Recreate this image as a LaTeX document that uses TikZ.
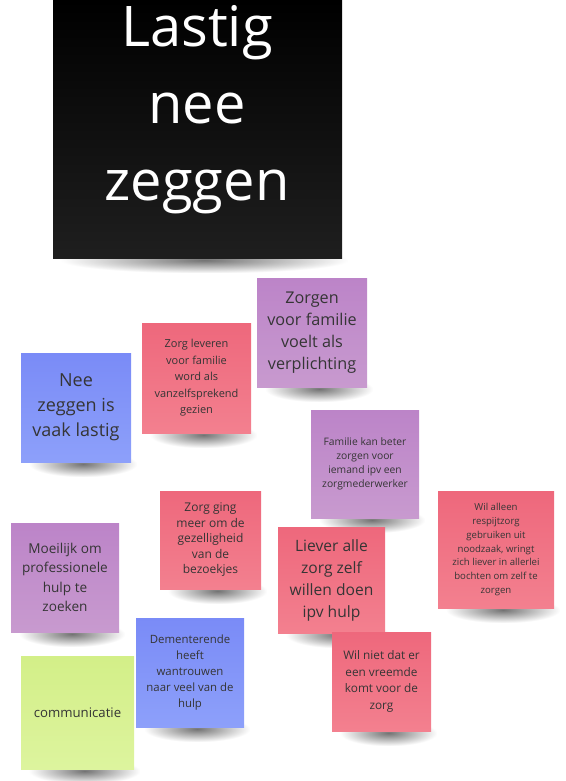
\documentclass[tikz,border=0pt]{standalone}
\usepackage{fontspec}
\setmainfont{Open Sans}
\usetikzlibrary{calc,backgrounds,fadings}
\definecolor{purpT}{HTML}{BC84C8}
\definecolor{purpB}{HTML}{C89ACF}
\definecolor{redT}{HTML}{EE687C}
\definecolor{redB}{HTML}{F3808F}
\definecolor{bluT}{HTML}{7A8BF7}
\definecolor{bluB}{HTML}{8DA0FA}
\definecolor{grnT}{HTML}{D3EF88}
\definecolor{grnB}{HTML}{DDF49E}
\definecolor{ink}{HTML}{353535}
\tikzfading[name=shfade, inner color=transparent!0, outer color=transparent!100]
\tikzset{
  note/.style={draw=none, inner sep=0pt, outer sep=0pt, text=ink, align=center},
  purpnote/.style={note, top color=purpT, bottom color=purpB},
  rednote/.style={note, top color=redT, bottom color=redB},
  blunote/.style={note, top color=bluT, bottom color=bluB},
  grnnote/.style={note, top color=grnT, bottom color=grnB},
  sz/.style 2 args={font=\fontsize{#1}{#2}\selectfont}
}
\newcommand{\notesh}[1]{%
  \path let \p1=(#1.south west), \p2=(#1.south east), \n1={(\x2-\x1)/2} in
    [fill=black, opacity=0.55, path fading=shfade]
    ({(\x1+\x2)/2+6pt-\n1+2pt},{\y1+11pt}) rectangle ({(\x1+\x2)/2+6pt+\n1},{\y1-15pt});}
\begin{document}
\begin{tikzpicture}[x=1pt,y=-1pt]
\useasboundingbox (0,0) rectangle (565,781);
% black title note
\node[inner sep=0pt, top color=black, bottom color=black!88, minimum width=289pt, minimum height=258pt] (title) at (197.5,129) {};
\node[inner sep=0pt, text=white, align=center, font=\fontsize{56}{77}\selectfont] (titletext) at (197,110) {Lastig\\nee\\zeggen};
% notes
\node[purpnote, minimum width=110pt, minimum height=109pt, sz={16.2}{22}] (zv) at (312,332.5) {Zorgen\\voor familie\\voelt als\\verplichting};
\node[rednote, minimum width=109pt, minimum height=110pt, sz={11}{16.5}] (zl) at (196.5,378) {Zorg leveren\\voor familie\\word als\\vanzelfsprekend\\gezien};
\node[blunote, minimum width=110pt, minimum height=109pt, sz={18}{25}] (nz) at (76,407.5) {Nee\\zeggen is\\vaak lastig};
\node[purpnote, minimum width=108pt, minimum height=108pt, sz={10.3}{14}] (fk) at (365,464) {Familie kan beter\\zorgen voor\\iemand ipv een\\zorgmederwerker};
\node[rednote, minimum width=116pt, minimum height=117pt, sz={9.6}{13.7}] (wa) at (496,549.5) {Wil alleen\\respijtzorg\\gebruiken uit\\noodzaak, wringt\\zich liever in allerlei\\bochten om zelf te\\zorgen};
\node[rednote, minimum width=107pt, minimum height=106pt, sz={15.6}{22}] (la) at (331.5,580) {Liever alle\\zorg zelf\\willen doen\\ipv hulp};
\node[rednote, minimum width=99pt, minimum height=99pt, sz={11.8}{16.8}] (wn) at (381.5,681.5) {Wil niet dat er\\een vreemde\\komt voor de\\zorg};
\node[purpnote, minimum width=108pt, minimum height=109pt, sz={13.6}{19.5}] (mo) at (65,577.5) {Moeilijk om\\professionele\\hulp te\\zoeken};
\node[rednote, minimum width=101pt, minimum height=98pt, sz={12}{15.5}] (zg) at (210.5,540) {Zorg ging\\meer om de\\gezelligheid\\van de\\bezoekjes};
\node[blunote, minimum width=108pt, minimum height=109pt, sz={11.4}{16}] (de) at (190,672.5) {Dementerende\\heeft\\wantrouwen\\naar veel van de\\hulp};
\node[grnnote, minimum width=113pt, minimum height=113pt, sz={13.2}{15}] (co) at (77.5,712.5) {communicatie};
% shadows
\begin{scope}[on background layer]
\foreach \nm in {title,zv,zl,nz,fk,wa,la,wn,mo,zg,de,co}{\notesh{\nm}}
\end{scope}
\end{tikzpicture}
\end{document}
